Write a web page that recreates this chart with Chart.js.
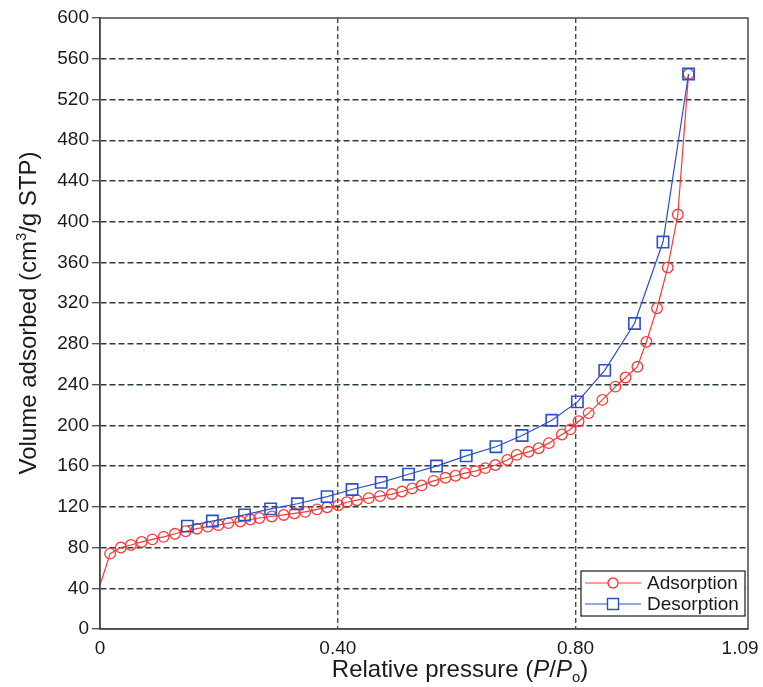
<!DOCTYPE html>
<html>
<head>
<meta charset="utf-8">
<script src="https://cdn.jsdelivr.net/npm/chart.js@4/dist/chart.umd.min.js"></script>
<style>
  html, body { margin: 0; padding: 0; background: #fff; }
  #wrap { width: 763px; height: 687px; }
</style>
</head>
<body>
<div id="wrap"><canvas id="chart" width="763" height="687"></canvas></div>
<script>
// --- data ---
const adsX = [0.000, 0.017, 0.035, 0.052, 0.070, 0.088, 0.107, 0.126, 0.144, 0.163, 0.181, 0.199, 0.216, 0.236, 0.253, 0.268,
              0.289, 0.309, 0.327, 0.345, 0.365, 0.382, 0.401, 0.415, 0.432, 0.452, 0.471, 0.491, 0.508, 0.525, 0.541,
              0.561, 0.581, 0.598, 0.614, 0.631, 0.648, 0.665, 0.685, 0.701, 0.721, 0.738, 0.755, 0.777, 0.791, 0.805,
              0.822, 0.845, 0.867, 0.884, 0.904, 0.919, 0.937, 0.955, 0.972, 0.990];
const adsY = [43, 74, 80, 82.5, 85.5, 88, 90.5, 93.5, 96, 98.5, 100.5, 102, 104, 105.5, 107.5, 109,
              110.5, 112, 113.5, 115, 117.5, 119.5, 121.5, 124.5, 126.5, 128.5, 130.5, 132.5, 135, 138, 141,
              145.5, 148.5, 150.5, 153, 155, 158, 161, 166, 171, 174, 177.5, 182.5, 191, 196, 204,
              212, 225, 238, 247, 257.5, 282, 315, 355, 407, 545];

const desX = [0.147, 0.189, 0.243, 0.287, 0.332, 0.382, 0.424, 0.473, 0.519, 0.566, 0.616, 0.666, 0.710, 0.760,
              0.803, 0.849, 0.899, 0.947, 0.990];
const desY = [101, 106, 112, 118, 123, 130, 137, 144, 152, 160, 170, 179, 190, 205,
              223, 254, 300, 380, 545];

const seriesNames = ['Adsorption', 'Desorption'];
const xTickValues = [0, 0.40, 0.80, 1.09];
const xTickLabels = ['0', '0.40', '0.80', '1.09'];
const yMin = 0, yMax = 600, yStep = 40;

const FONT = '"Liberation Sans", Arial, Helvetica, sans-serif';
const RED = '#f23a3a';
const BLUE = '#2f4fc4';
const GRID_H = '#2b3c42';
const GRID_V = '#5b4636';
const AXIS = '#4a4a4a';
const TEXT = '#1a1a1a';

// axis titles with italic / super / subscript parts
function drawRich(ctx, parts, size) {
    let total = 0;
    parts.forEach(p => {
        const fs = p.small ? size * 0.62 : size;
        ctx.font = (p.italic ? 'italic ' : '') + fs + 'px ' + FONT;
        p.w = ctx.measureText(p.t).width;
        total += p.w;
    });
    let x = -total / 2;
    parts.forEach(p => {
        const fs = p.small ? size * 0.62 : size;
        ctx.font = (p.italic ? 'italic ' : '') + fs + 'px ' + FONT;
        ctx.fillText(p.t, x, p.dy || 0);
        x += p.w;
    });
}

const titlesPlugin = {
    id: 'titles',
    afterDraw(chart) {
        const ctx = chart.ctx;
        ctx.save();
        ctx.fillStyle = TEXT;
        ctx.textAlign = 'left';
        ctx.textBaseline = 'alphabetic';

        // x title
        ctx.save();
        ctx.translate(460, 677);
        drawRich(ctx, [
            { t: 'Relative pressure (' },
            { t: 'P', italic: true },
            { t: '/' },
            { t: 'P', italic: true },
            { t: 'o', small: true, dy: 5 },
            { t: ')' }
        ], 24);
        ctx.restore();

        // y title
        ctx.save();
        ctx.translate(36, 313);
        ctx.rotate(-Math.PI / 2);
        drawRich(ctx, [
            { t: 'Volume adsorbed (cm' },
            { t: '3', small: true, dy: -10 },
            { t: '/g STP)' }
        ], 24);
        ctx.restore();

        // frame on top and right
        const a = chart.chartArea;
        ctx.strokeStyle = AXIS;
        ctx.lineWidth = 1.5;
        ctx.setLineDash([]);
        ctx.strokeRect(a.left, a.top, a.right - a.left, a.bottom - a.top);

        // legend inside the plot
        const lx = 581, ly = 571, lw = 164, lh = 45;
        ctx.fillStyle = '#fff';
        ctx.fillRect(lx, ly, lw, lh);
        ctx.strokeStyle = '#2b2b2b';
        ctx.lineWidth = 1.3;
        ctx.strokeRect(lx, ly, lw, lh);
        const rows = [
            { name: seriesNames[0], color: RED, style: 'circle', y: ly + 12 },
            { name: seriesNames[1], color: BLUE, style: 'rect', y: ly + 33 }
        ];
        rows.forEach(r => {
            ctx.strokeStyle = r.color;
            ctx.lineWidth = 1;
            ctx.beginPath();
            ctx.moveTo(lx + 4, r.y);
            ctx.lineTo(lx + 60, r.y);
            ctx.stroke();
            ctx.fillStyle = '#fff';
            ctx.lineWidth = 1.4;
            ctx.beginPath();
            if (r.style === 'circle') {
                ctx.arc(lx + 32, r.y, 5, 0, Math.PI * 2);
            } else {
                ctx.rect(lx + 26.5, r.y - 5.5, 11, 11);
            }
            ctx.fill();
            ctx.stroke();
            ctx.fillStyle = TEXT;
            ctx.font = '19px ' + FONT;
            ctx.textBaseline = 'middle';
            ctx.fillText(r.name, lx + 66, r.y + 1);
        });
        ctx.restore();
    }
};

const ctx = document.getElementById('chart');
new Chart(ctx, {
    type: 'line',
    data: {
        datasets: [
            {
                label: seriesNames[0],
                data: adsX.map((x, i) => ({ x: x, y: adsY[i] })),
                borderColor: RED,
                backgroundColor: 'rgba(255,255,255,0)',
                borderWidth: 1.2,
                pointStyle: 'circle',
                pointRadius: adsX.map((_, i) => i === 0 ? 0 : 5.3),
                pointBorderWidth: 1.3,
                pointBorderColor: RED,
                pointBackgroundColor: 'rgba(255,255,255,0)',
                tension: 0,
                order: 2
            },
            {
                label: seriesNames[1],
                data: desX.map((x, i) => ({ x: x, y: desY[i] })),
                borderColor: BLUE,
                backgroundColor: 'rgba(255,255,255,0)',
                borderWidth: 1.2,
                pointStyle: 'rect',
                pointRadius: 8,
                pointBorderWidth: 1.6,
                pointBorderColor: BLUE,
                pointBackgroundColor: 'rgba(255,255,255,0)',
                tension: 0,
                order: 1
            }
        ]
    },
    options: {
        responsive: false,
        animation: false,
        devicePixelRatio: 1,
        layout: { padding: { top: 18, right: 15, left: 0, bottom: 0 } },
        plugins: {
            legend: { display: false },
            tooltip: { enabled: false }
        },
        scales: {
            x: {
                type: 'linear',
                min: 0,
                max: 1.09,
                afterBuildTicks: scale => {
                    scale.ticks = xTickValues.map(v => ({ value: v }));
                },
                afterFit: scale => {
                    scale.height = 58;
                    scale.paddingLeft = 0;
                    scale.paddingRight = 0;
                },
                ticks: {
                    autoSkip: false,
                    maxRotation: 0,
                    padding: 8,
                    color: TEXT,
                    font: { size: 19, family: FONT },
                    callback: (v, i) => i === xTickLabels.length - 1 ? xTickLabels[i] + '   ' : xTickLabels[i]
                },
                grid: {
                    drawTicks: false,
                    lineWidth: 1.4,
                    color: c => (c.tick && c.tick.value > 0 && c.tick.value < 1.09) ? GRID_V : 'rgba(0,0,0,0)'
                },
                border: { display: true, color: AXIS, width: 1.5, dash: [5, 3] }
            },
            y: {
                min: yMin,
                max: yMax,
                afterFit: scale => { scale.width = 100; },
                ticks: {
                    stepSize: yStep,
                    padding: 3,
                    color: TEXT,
                    font: { size: 19, family: FONT }
                },
                grid: {
                    tickLength: 8,
                    tickColor: AXIS,
                    tickWidth: 1.3,
                    tickBorderDash: [],
                    lineWidth: 1.4,
                    color: c => (c.tick && c.tick.value > yMin && c.tick.value < yMax) ? GRID_H : 'rgba(0,0,0,0)'
                },
                border: { display: true, color: AXIS, width: 1.5, dash: [6, 3] }
            }
        }
    },
    plugins: [titlesPlugin]
});
</script>
</body>
</html>
